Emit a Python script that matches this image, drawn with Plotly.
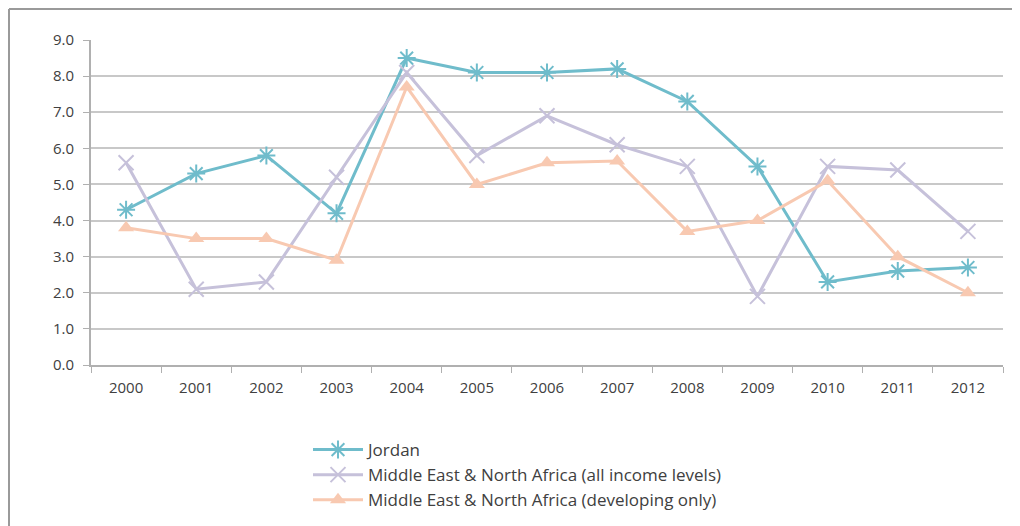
import plotly.graph_objects as go

years = ['2000', '2001', '2002', '2003', '2004', '2005', '2006',
         '2007', '2008', '2009', '2010', '2011', '2012']

jordan = [4.3, 5.3, 5.8, 4.2, 8.5, 8.1, 8.1, 8.2, 7.3, 5.5, 2.3, 2.6, 2.7]
mena_all = [5.6, 2.1, 2.3, 5.2, 8.1, 5.8, 6.9, 6.1, 5.5, 1.9, 5.5, 5.4, 3.7]
mena_dev = [3.8, 3.5, 3.5, 2.9, 7.7, 5.0, 5.6, 5.65, 3.7, 4.0, 5.1, 3.0, 2.0]

names = ['Jordan',
         'Middle East & North Africa (all income levels)',
         'Middle East & North Africa (developing only)']

fig = go.Figure()

fig.add_trace(go.Scatter(
    x=years, y=jordan, name=names[0], mode='lines+markers',
    line=dict(color='#6fbccb', width=3),
    marker=dict(symbol='asterisk-open', size=15, line=dict(color='#6fbccb', width=2))
))
fig.add_trace(go.Scatter(
    x=years, y=mena_all, name=names[1], mode='lines+markers',
    line=dict(color='#c6c1da', width=3),
    marker=dict(symbol='x-thin-open', size=15, line=dict(color='#c6c1da', width=2))
))
fig.add_trace(go.Scatter(
    x=years, y=mena_dev, name=names[2], mode='lines+markers',
    line=dict(color='#f8c9b1', width=3),
    marker=dict(symbol='triangle-up', size=14, color='#f8c9b1')
))

# page body has an 8px margin, so figure coords = window coords - 8
W, H = 1012, 518
L, R, T, B = 83, 995, 32, 357
pw, ph = R - L, B - T

def px(x):
    return (x - L) / pw

def py(y):
    return (B - y) / ph

frame = dict(color='#9a9a9a', width=2)
fig.add_shape(type='line', xref='paper', yref='paper',
              x0=px(1), x1=px(1), y0=py(1), y1=py(560), line=frame)
fig.add_shape(type='line', xref='paper', yref='paper',
              x0=px(1), x1=px(1020), y0=py(1), y1=py(1), line=frame)

fig.update_layout(
    width=W, height=H,
    margin=dict(l=L, r=W - R, t=T, b=H - B, autoexpand=False),
    paper_bgcolor='white', plot_bgcolor='white',
    font=dict(family='Open Sans', size=15, color='#404040'),
    showlegend=True,
    legend=dict(
        x=px(300), y=py(424), xanchor='left', yanchor='top',
        orientation='v', font=dict(size=17, color='#404040'),
        bgcolor='rgba(0,0,0,0)', itemwidth=50
    )
)

fig.update_xaxes(
    type='category', range=[-0.5, 12.5], automargin=False,
    showline=True, linecolor='#b0b0b0', linewidth=2,
    ticks='outside', tickson='boundaries', ticklen=6, tickcolor='#b0b0b0',
    ticklabelstandoff=8,
    showgrid=False, tickfont=dict(size=15, color='#404040')
)
fig.update_yaxes(
    range=[0, 9], dtick=1, tickformat='.1f', automargin=False,
    showline=True, linecolor='#b0b0b0', linewidth=2,
    ticks='outside', ticklen=6, tickcolor='#b0b0b0',
    ticklabelstandoff=6,
    showgrid=True, gridcolor='#c8c8c8', gridwidth=2,
    zeroline=False, tickfont=dict(size=15, color='#404040')
)

fig.write_html("out.html")
